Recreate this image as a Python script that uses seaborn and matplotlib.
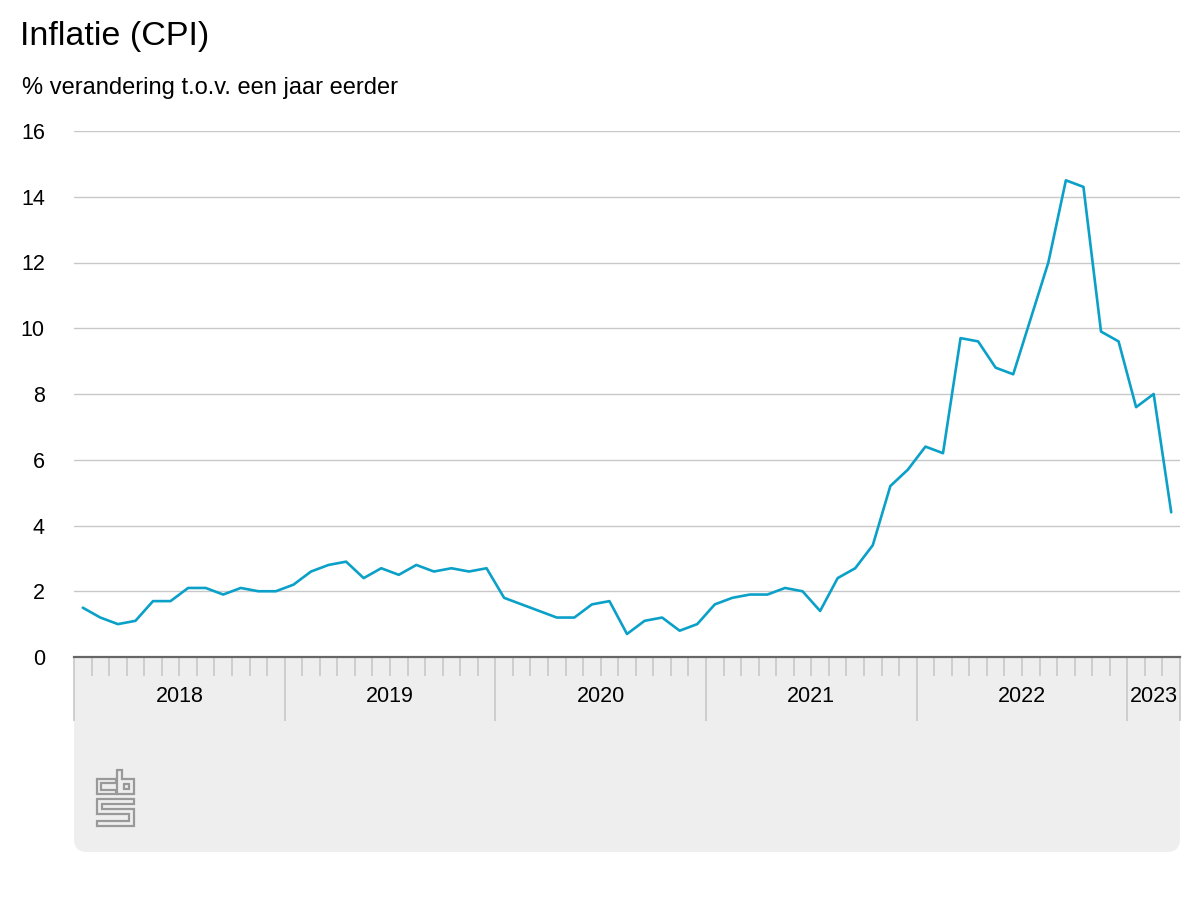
import numpy as np
import pandas as pd
import matplotlib
matplotlib.use('Agg')
import matplotlib.pyplot as plt
import seaborn as sns
from matplotlib.patches import Rectangle, FancyBboxPatch
from matplotlib.transforms import blended_transform_factory

sns.set_style("white")
plt.rcParams['font.family'] = ['Liberation Sans', 'DejaVu Sans']

# CPI, % change year-on-year, monthly Jan 2018 - Mar 2023
cpi_2018 = [1.5, 1.2, 1.0, 1.1, 1.7, 1.7, 2.1, 2.1, 1.9, 2.1, 2.0, 2.0]
cpi_2019 = [2.2, 2.6, 2.8, 2.9, 2.4, 2.7, 2.5, 2.8, 2.6, 2.7, 2.6, 2.7]
cpi_2020 = [1.8, 1.6, 1.4, 1.2, 1.2, 1.6, 1.7, 0.7, 1.1, 1.2, 0.8, 1.0]
cpi_2021 = [1.6, 1.8, 1.9, 1.9, 2.1, 2.0, 1.4, 2.4, 2.7, 3.4, 5.2, 5.7]
cpi_2022 = [6.4, 6.2, 9.7, 9.6, 8.8, 8.6, 10.3, 12.0, 14.5, 14.3, 9.9, 9.6]
cpi_2023 = [7.6, 8.0, 4.4]

years = ['2018', '2019', '2020', '2021', '2022', '2023']
months_per_year = [12, 12, 12, 12, 12, 3]
y_ticks = [0, 2, 4, 6, 8, 10, 12, 14, 16]

values = cpi_2018 + cpi_2019 + cpi_2020 + cpi_2021 + cpi_2022 + cpi_2023
df = pd.DataFrame({'maand': np.arange(len(values)), 'cpi': values})

W, H = 1200, 900
fig = plt.figure(figsize=(12, 9), dpi=100)
fig.patch.set_facecolor('white')

left, right, top, bottom = 74, 1180, 131, 657
ax = fig.add_axes([left / W, 1 - bottom / H, (right - left) / W, (bottom - top) / H])

sns.lineplot(data=df, x='maand', y='cpi', ax=ax, color='#0aa0c8', linewidth=1.9)

n = len(values)
ax.set_xlim(-0.5, n - 0.5)
ax.set_ylim(0, 16)
ax.set_xlabel('')
ax.set_ylabel('')

# gridlines
ax.set_yticks(y_ticks)
ax.set_yticklabels([str(t) for t in y_ticks], fontsize=15.5, color='#000000')
ax.yaxis.grid(True, color='#c8c8c8', linewidth=1)
ax.tick_params(axis='y', left=False, length=0, pad=21)
for s in ['top', 'right', 'left']:
    ax.spines[s].set_visible(False)
ax.spines['bottom'].set_color('#666666')
ax.spines['bottom'].set_linewidth(1.6)
ax.spines['bottom'].set_zorder(5)

# month and year ticks
bounds = np.cumsum([0] + months_per_year) - 0.5
month_edges = [m - 0.5 for m in range(n + 1) if (m - 0.5) not in bounds]
ax.set_xticks(bounds)
ax.set_xticklabels([])
ax.set_xticks(month_edges, minor=True)
ax.tick_params(axis='x', which='major', bottom=True, length=46, width=1.2, color='#c8c8c8', direction='out')
ax.tick_params(axis='x', which='minor', bottom=True, length=13.5, width=1.2, color='#c8c8c8', direction='out')

trans = blended_transform_factory(ax.transData, ax.transAxes)
for i, yr in enumerate(years):
    cx = (bounds[i] + bounds[i + 1]) / 2
    ax.text(cx, -40 / (bottom - top), yr, transform=trans, ha='center', va='center',
            fontsize=15.5, color='#000000')

# grey band under the axis with rounded bottom corners
grey = '#eeeeee'
fig.patches.append(Rectangle((left / 100, (H - 760) / 100), (right - left) / 100, (760 - bottom) / 100,
                             transform=fig.dpi_scale_trans, facecolor=grey, edgecolor='none', zorder=-1))
fig.patches.append(FancyBboxPatch((left / 100, (H - 852) / 100), (right - left) / 100, (852 - 700) / 100,
                                  boxstyle='round,pad=0,rounding_size=0.13',
                                  transform=fig.dpi_scale_trans, facecolor=grey, edgecolor='none', zorder=-1))

# cbs logo
lx = fig.add_axes([95 / W, 1 - 829 / H, 42 / W, 62 / H])
lx.set_xlim(95, 137)
lx.set_ylim(829, 767)
lx.axis('off')
logo_c = '#999999'
paths = [
    [(116, 779), (97, 779), (97, 794), (116, 794), (116, 790), (101, 790), (101, 783), (116, 783), (116, 779)],
    [(117, 770), (122, 770), (122, 779), (134, 779), (134, 794), (117, 794), (117, 770)],
    [(124, 784), (129, 784), (129, 789), (124, 789), (124, 784)],
    [(97, 799), (134, 799), (134, 804), (102, 804), (102, 809), (134, 809), (134, 826), (97, 826),
     (97, 821), (129, 821), (129, 814), (97, 814), (97, 799)],
]
for p in paths:
    xs, ys = zip(*p)
    lx.plot(xs, ys, color=logo_c, linewidth=1.6, solid_joinstyle='miter')

# titles
fig.text(20 / W, 1 - 37 / H, 'Inflatie (CPI)', fontsize=24.5, ha='left', va='center', color='#000000')
fig.text(22 / W, 1 - 88 / H, '% verandering t.o.v. een jaar eerder', fontsize=17, ha='left',
         va='center', color='#000000')

plt.savefig('out.png', dpi=100)
plt.close()
